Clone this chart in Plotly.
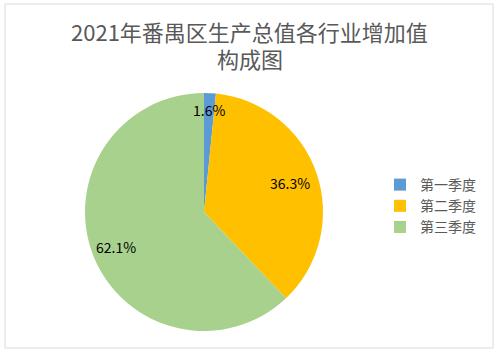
import math
import plotly.graph_objects as go

categories = ["第一季度", "第二季度", "第三季度"]
values = [1.6, 36.3, 62.1]
colors = ["#5B9BD5", "#FFC000", "#A9D18E"]
title_lines = ["2021年番禺区生产总值各行业增加值", "构成图"]

W, H = 499, 356
FONT = "Noto Sans CJK SC"

# pie geometry (pixels)
cx, cy, r = 204, 212, 119
label_r = [0.86, 0.76, 0.80]

fig = go.Figure()
fig.add_trace(go.Pie(
    labels=categories,
    values=values,
    marker=dict(colors=colors, line=dict(width=0)),
    sort=False,
    direction="clockwise",
    rotation=0,
    textinfo="none",
    hoverinfo="label+percent",
    domain=dict(x=[(cx - r) / W, (cx + r) / W],
                y=[1 - (cy + r) / H, 1 - (cy - r) / H]),
))

# data labels computed from the values
total = sum(values)
cum = 0.0
annotations = []
for i, v in enumerate(values):
    mid = (cum + v / 2) / total * 2 * math.pi
    cum += v
    px = cx + label_r[i] * r * math.sin(mid)
    py = cy - label_r[i] * r * math.cos(mid)
    annotations.append(dict(
        x=px / W, y=1 - py / H, xref="paper", yref="paper",
        text=f"{v / total * 100:.1f}%", showarrow=False,
        font=dict(family=FONT, size=14, color="#000000"),
        xanchor="center", yanchor="middle",
    ))

# chart title, one annotation per line
for j, line in enumerate(title_lines):
    annotations.append(dict(
        x=0.5, y=1 - (31 + 27 * j) / H, xref="paper", yref="paper",
        text=line, showarrow=False,
        font=dict(family=FONT, size=22, color="#595959"),
        xanchor="center", yanchor="middle",
    ))

fig.update_layout(
    width=W, height=H,
    margin=dict(l=0, r=0, t=0, b=0, autoexpand=False),
    paper_bgcolor="white",
    plot_bgcolor="white",
    legend=dict(x=380 / W, xanchor="left", y=1 - 206 / H, yanchor="middle",
                font=dict(family=FONT, size=14, color="#595959"),
                bgcolor="rgba(0,0,0,0)", tracegroupgap=0, itemwidth=30),
    annotations=annotations,
    shapes=[dict(type="rect", xref="paper", yref="paper",
                 x0=5 / W, x1=493 / W, y0=1 - 348 / H, y1=1 - 4 / H,
                 line=dict(color="#D9D9D9", width=1))],
)

fig.write_html("out.html", config={"displayModeBar": False},
               post_script="document.body.style.margin='0';")
